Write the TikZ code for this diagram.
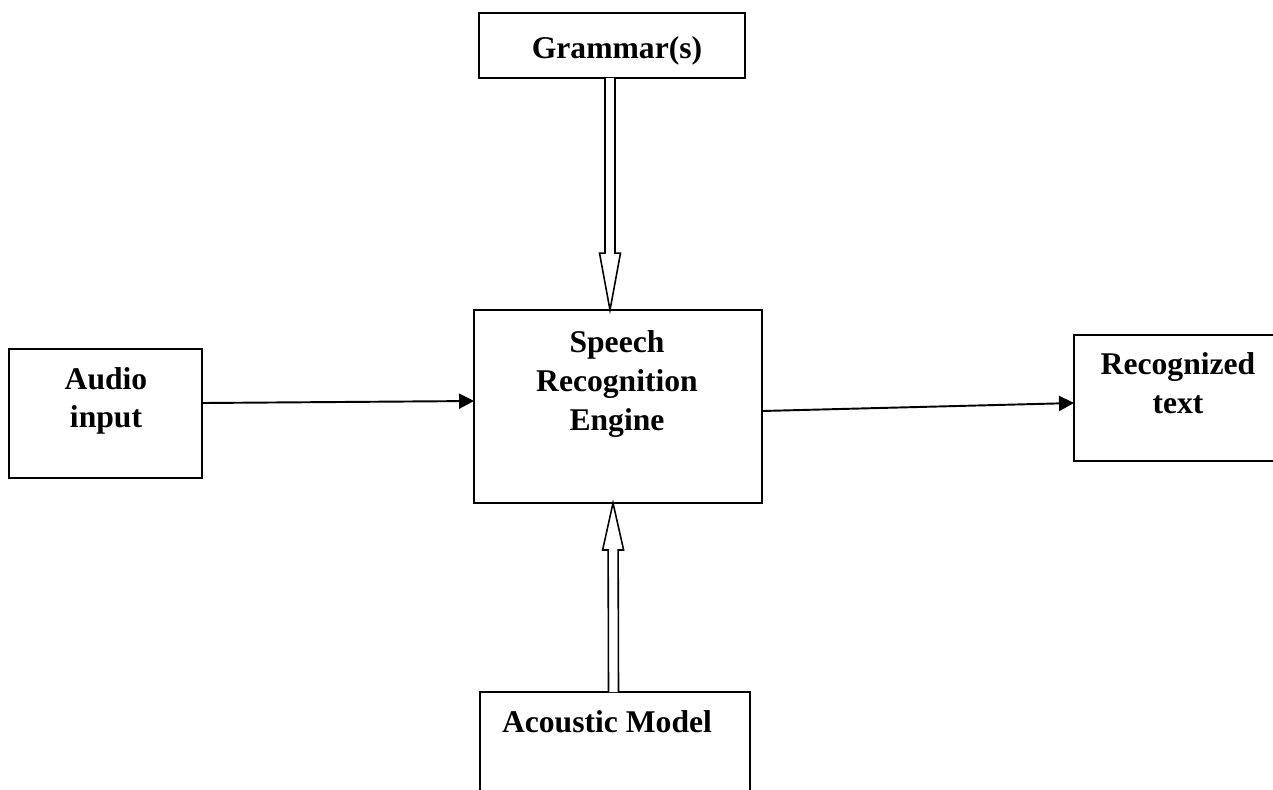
\documentclass[tikz,border=0pt]{standalone}
\usepackage{fontspec}
\setmainfont{Liberation Serif}
\usepackage{tikz}
\usetikzlibrary{arrows.meta,positioning,calc}
\tikzset{
    block/.style={draw,thick,line width=1.1pt,rectangle,inner sep=0pt,outer sep=0pt},
    block label/.style={font=\bfseries\fontsize{18}{22}\selectfont,align=center,inner sep=0pt},
    arr/.style={->,>={Triangle[length=0.3cm,width=0.3cm]},line width=1.1pt},
    hollow/.style={line width=0.9pt,fill=white,line join=miter},
}
% open double arrow from #1 to #2, head length #3
\newcommand{\hollowarrow}[3]{%
    \coordinate (hb) at ($(#2)!#3!(#1)$);
    \draw[hollow] ($(#1)!0.1cm!90:(#2)$) -- ($(hb)!0.1cm!90:(#2)$)
        -- ($(hb)!0.21cm!90:(#2)$) -- (#2) -- ($(hb)!0.21cm!-90:(#2)$)
        -- ($(hb)!0.1cm!-90:(#2)$) -- ($(#1)!0.1cm!-90:(#2)$);
}
\begin{document}
\begin{tikzpicture}[x=0.02cm,y=-0.02cm]
        \useasboundingbox (0,0) rectangle (1273,789);
        \clip (0,0) rectangle (1273,789);

        % boxes
        \node[block,minimum width=5.32cm,minimum height=1.3cm] (gram) at (612,45.5) {};
        \node[block,minimum width=5.76cm,minimum height=3.86cm] (sre) at (618,406.5) {};
        \node[block,minimum width=3.86cm,minimum height=2.58cm] (audio) at (105.5,413.5) {};
        \node[block,minimum width=4.6cm,minimum height=2.52cm] (rec) at (1189,398) {};
        \node[block,minimum width=5.4cm,minimum height=2.6cm] (acoustic) at (615,757) {};

        % labels
        \node[block label,anchor=base] (gramtext) at (617,58) {Grammar(s)};
        \node[block label] (sretext) at (617,384) {Speech\\Recognition\\Engine};
        \node[block label] (audiotext) at (106,401) {Audio\\input};
        \node[block label] (rectext) at (1178,383) {Recognized\\text};
        \node[block label,anchor=base] (acoustictext) at (607,732) {Acoustic Model};

        % signal flow
        \draw[arr] ([yshift=0.21cm]audio.east) -- ([yshift=0.11cm]sre.west);
        \draw[arr] ([yshift=-0.09cm]sre.east) -- ([yshift=-0.1cm]rec.west);

        % grammar and acoustic model feed the engine
        \coordinate (gfrom) at ([xshift=-0.04cm]gram.south);
        \coordinate (gtip) at ([xshift=-0.16cm]sre.north);
        \hollowarrow{gfrom}{gtip}{1.14cm}
        \coordinate (afrom) at ([xshift=-0.03cm]acoustic.north);
        \coordinate (atip) at ([xshift=-0.1cm]sre.south);
        \hollowarrow{afrom}{atip}{0.94cm}
    \end{tikzpicture}
\end{document}
